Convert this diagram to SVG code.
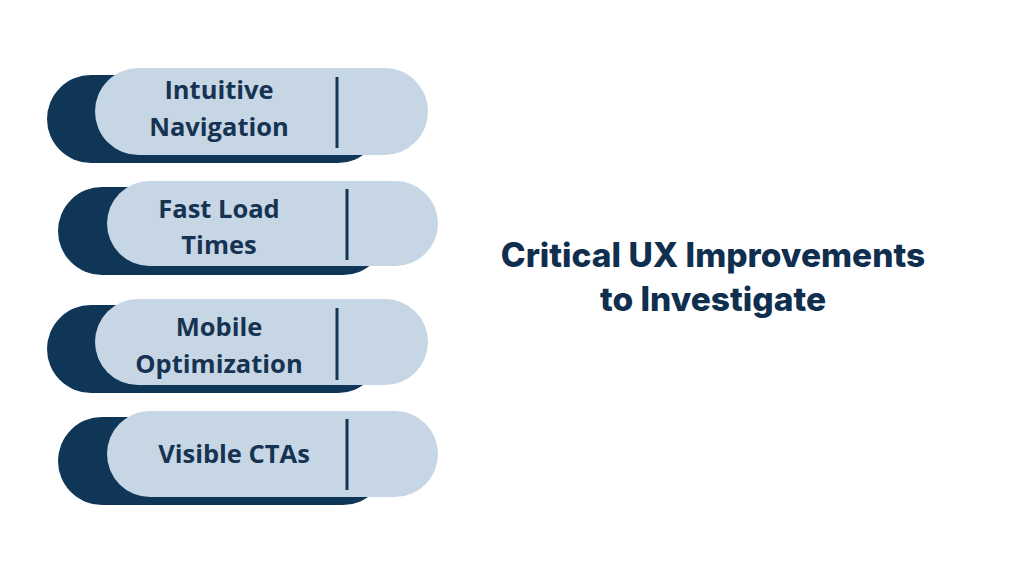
<svg xmlns="http://www.w3.org/2000/svg" width="1024" height="576" viewBox="0 0 1024 576">
  <style>
    .dark { fill: #0f3557; }
    .light { fill: #c6d6e5; }
    .div { stroke: #0f3557; stroke-width: 3; }
    .lbl { font-family: "Open Sans", "Liberation Sans", sans-serif; font-weight: 700; font-size: 25.5px; fill: #163352; text-anchor: middle; }
    .title { font-family: Inter, "Liberation Sans", sans-serif; font-weight: 800; font-size: 33.5px; fill: #102f4f; text-anchor: middle; }
  </style>
  <rect width="1024" height="576" fill="#ffffff"/>
  <g id="node-intuitive-navigation">
    <rect class="dark" x="47" y="75" width="335" height="88" rx="44"/>
    <rect class="light" x="95" y="68" width="333" height="87" rx="43.5"/>
    <line class="div" x1="337" y1="77" x2="337" y2="148"/>
    <text class="lbl" x="219" y="99">Intuitive</text>
    <text class="lbl" x="219" y="136">Navigation</text>
  </g>
  <g id="node-fast-load-times">
    <rect class="dark" x="58" y="187" width="329" height="88" rx="44"/>
    <rect class="light" x="107" y="181" width="331" height="85" rx="42.5"/>
    <line class="div" x1="347" y1="189" x2="347" y2="260"/>
    <text class="lbl" x="219" y="218">Fast Load</text>
    <text class="lbl" x="219" y="254">Times</text>
  </g>
  <g id="node-mobile-optimization">
    <rect class="dark" x="47" y="305" width="335" height="88" rx="44"/>
    <rect class="light" x="95" y="299" width="333" height="86" rx="43"/>
    <line class="div" x1="337" y1="308" x2="337" y2="380"/>
    <text class="lbl" x="219" y="336">Mobile</text>
    <text class="lbl" x="219" y="373">Optimization</text>
  </g>
  <g id="node-visible-ctas">
    <rect class="dark" x="58" y="417" width="329" height="88" rx="44"/>
    <rect class="light" x="107" y="411" width="331" height="86" rx="43"/>
    <line class="div" x1="347" y1="419" x2="347" y2="490"/>
    <text class="lbl" x="234" y="463">Visible CTAs</text>
  </g>
  <g id="connectors"/>
  <g id="title">
    <text class="title" x="713" y="267">Critical UX Improvements</text>
    <text class="title" x="713" y="311">to Investigate</text>
  </g>
</svg>
